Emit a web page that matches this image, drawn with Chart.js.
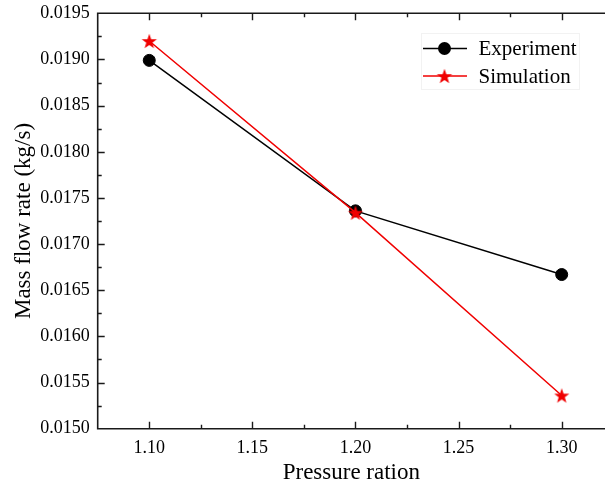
<!DOCTYPE html>
<html><head><meta charset="utf-8">
<script src="https://cdn.jsdelivr.net/npm/chart.js@4.4.1/dist/chart.umd.min.js"></script>
<style>html,body{margin:0;padding:0;overflow:hidden;background:#fff;width:605px;height:488px}#wrap{width:605px;height:488px;overflow:hidden;position:relative}canvas{display:block}</style>
</head><body>
<div id="wrap"><canvas id="c" width="605" height="488" style="width:605px;height:488px"></canvas></div>
<script>
// ---- data ----
const pressureRatio = [1.10, 1.20, 1.30];
const experiment = [0.01899, 0.01736, 0.01667];
const simulation = [0.01920, 0.01734, 0.01536];
const xTickLabels = ['1.10', '1.15', '1.20', '1.25', '1.30'];
const yTickLabels = ['0.0150', '0.0155', '0.0160', '0.0165', '0.0170', '0.0175', '0.0180', '0.0185', '0.0190', '0.0195'];
const seriesNames = ['Experiment', 'Simulation'];
const xRange = [1.075, 1.321];      // visible part of the x axis
const xFrameMax = 1.325;            // right frame edge (cropped off in the picture)

const FONT = "'Liberation Serif', 'Times New Roman', serif";
const TXT = '#000';
const AX = '#1a1a1a';

function makeStar(R, color) {
  const s = Math.ceil(R * 2 + 4);
  const c = document.createElement('canvas');
  c.width = s; c.height = s;
  const g = c.getContext('2d');
  const cx = s / 2, cy = s / 2 + R * 0.1, r = R * 0.4;
  g.beginPath();
  for (let i = 0; i < 10; i++) {
    const a = -Math.PI / 2 + i * Math.PI / 5;
    const rr = i % 2 === 0 ? R : r;
    const px = cx + rr * Math.cos(a), py = cy + rr * Math.sin(a);
    i === 0 ? g.moveTo(px, py) : g.lineTo(px, py);
  }
  g.closePath();
  g.fillStyle = color;
  g.fill();
  return c;
}
const RED = '#f00000';
const starImg = makeStar(8, RED);

function midpoints(vals) {
  const out = [];
  const step = vals[1] - vals[0];
  out.push(vals[0] - step / 2);
  for (let i = 0; i < vals.length; i++) out.push(vals[i] + step / 2);
  return out;
}

const framePlugin = {
  id: 'frame',
  beforeDatasetsDraw(chart) {
    const { ctx, chartArea: a, scales } = chart;
    const right = scales.x.getPixelForValue(xFrameMax);
    ctx.save();
    ctx.strokeStyle = AX;
    ctx.lineWidth = 1.6;
    ctx.beginPath();
    ctx.rect(a.left, a.top, right - a.left, a.bottom - a.top);
    ctx.stroke();
    const xMaj = xTickLabels.map(parseFloat);
    const yMaj = yTickLabels.map(parseFloat);
    const xMin = midpoints(xMaj), yMin = midpoints(yMaj);
    ctx.lineWidth = 1.4;
    ctx.beginPath();
    const xt = (v, L) => {
      const p = Math.round(scales.x.getPixelForValue(v)) + 0.5;
      if (p < a.left + 1 || p > right - 1) return;
      ctx.moveTo(p, a.bottom); ctx.lineTo(p, a.bottom - L);
      ctx.moveTo(p, a.top); ctx.lineTo(p, a.top + L);
    };
    const yt = (v, L) => {
      const p = Math.round(scales.y.getPixelForValue(v)) + 0.5;
      if (p < a.top + 1 || p > a.bottom - 1) return;
      ctx.moveTo(a.left, p); ctx.lineTo(a.left + L, p);
      ctx.moveTo(right, p); ctx.lineTo(right - L, p);
    };
    xMaj.forEach(v => xt(v, 7)); xMin.forEach(v => xt(v, 4));
    yMaj.forEach(v => yt(v, 7)); yMin.forEach(v => yt(v, 4));
    ctx.stroke();
    ctx.restore();
  }
};

const legendPlugin = {
  id: 'customLegend',
  afterDraw(chart) {
    const { ctx } = chart;
    ctx.save();
    ctx.strokeStyle = '#f2f2f2';
    ctx.lineWidth = 1;
    ctx.strokeRect(421.5, 33.5, 158, 56);
    const rows = [
      { ds: chart.data.datasets[1], y: 48.5 },
      { ds: chart.data.datasets[0], y: 76 }
    ];
    rows.forEach((r) => {
      ctx.strokeStyle = r.ds.borderColor;
      ctx.lineWidth = 1.6;
      ctx.beginPath();
      ctx.moveTo(423, r.y); ctx.lineTo(467, r.y);
      ctx.stroke();
      if (r.ds.pointStyle === 'circle') {
        ctx.fillStyle = r.ds.backgroundColor;
        ctx.beginPath(); ctx.arc(444.5, r.y, 6.5, 0, Math.PI * 2); ctx.fill();
      } else {
        ctx.drawImage(r.ds.pointStyle, 444.5 - r.ds.pointStyle.width / 2, r.y - r.ds.pointStyle.height / 2);
      }
      ctx.fillStyle = TXT;
      ctx.font = '21px ' + FONT;
      ctx.textBaseline = 'middle';
      ctx.textAlign = 'left';
      ctx.fillText(r.ds.label, 478.5, r.y + 1);
    });
    ctx.restore();
  }
};

const noPad = s => { s.paddingTop = 0; s.paddingBottom = 0; s.paddingLeft = 0; s.paddingRight = 0; };

new Chart(document.getElementById('c'), {
  type: 'line',
  data: {
    datasets: [
      {
        label: seriesNames[1],
        data: pressureRatio.map((x, i) => ({ x, y: simulation[i] })),
        borderColor: RED, backgroundColor: RED, borderWidth: 1.5,
        pointStyle: starImg, pointRadius: 8, order: 0, clip: false
      },
      {
        label: seriesNames[0],
        data: pressureRatio.map((x, i) => ({ x, y: experiment[i] })),
        borderColor: '#000', backgroundColor: '#000', borderWidth: 1.5,
        pointStyle: 'circle', pointRadius: 6, pointBorderWidth: 1, order: 1, clip: false
      }
    ]
  },
  options: {
    responsive: false,
    animation: false,
    events: [],
    plugins: { legend: { display: false }, tooltip: { enabled: false } },
    layout: { autoPadding: false, padding: { top: 13.3, right: 0, left: 0, bottom: 0 } },
    scales: {
      x: {
        type: 'linear', min: xRange[0], max: xRange[1],
        grid: { display: false, drawTicks: false },
        border: { display: false },
        afterBuildTicks: s => { s.ticks = xTickLabels.map(l => ({ value: parseFloat(l) })); },
        afterFit: s => { s.height = 59.3; noPad(s); },
        ticks: {
          autoSkip: false, maxRotation: 0, padding: 9, color: TXT,
          font: { family: FONT, size: 18 },
          callback: (v, i) => xTickLabels[i]
        },
        title: {
          display: true, text: 'Pressure ration', color: TXT,
          font: { family: FONT, size: 23 }, padding: { top: 0, bottom: 1 }
        }
      },
      y: {
        type: 'linear', min: 0.0150, max: 0.0195,
        grid: { display: false, drawTicks: false },
        border: { display: false },
        afterBuildTicks: s => { s.ticks = yTickLabels.map(l => ({ value: parseFloat(l) })); },
        afterFit: s => { s.width = 97.7; noPad(s); },
        ticks: {
          autoSkip: false, padding: 8, color: TXT,
          font: { family: FONT, size: 18 },
          callback: (v, i) => yTickLabels[i]
        },
        title: {
          display: true, text: 'Mass flow rate (kg/s)', color: TXT,
          font: { family: FONT, size: 23 }, padding: { top: 10, bottom: 0 }
        }
      }
    }
  },
  plugins: [framePlugin, legendPlugin]
});
</script>
</body></html>
